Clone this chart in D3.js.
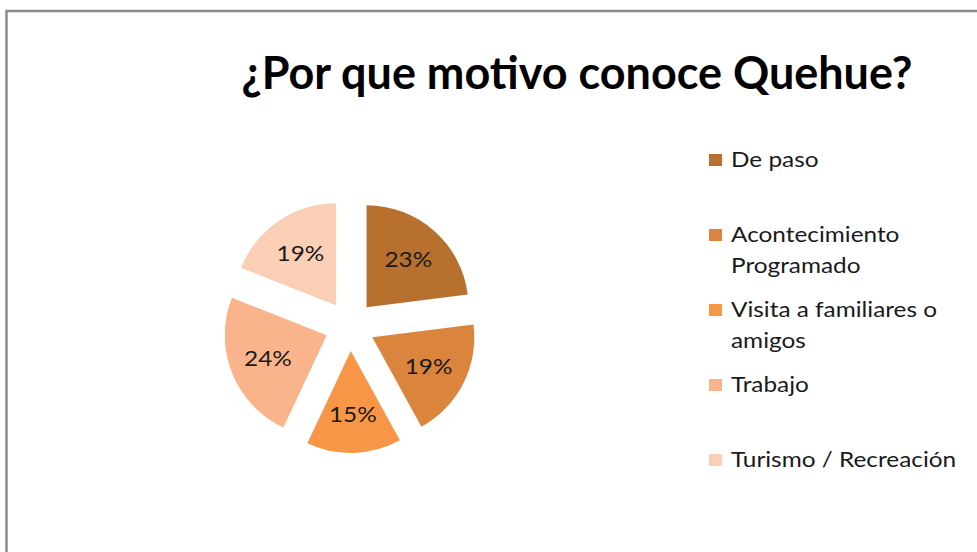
<!DOCTYPE html>
<html>
<head>
<meta charset="utf-8">
<script src="https://cdn.jsdelivr.net/npm/d3@7"></script>
<style>
  html, body { margin: 0; padding: 0; background: #fff; }
  svg { display: block; }
</style>
</head>
<body>
<div id="chart"></div>
<script>
// data
var categories = ["De paso", "Acontecimiento Programado", "Visita a familiares o amigos", "Trabajo", "Turismo / Recreación"];
var values = [23, 19, 15, 24, 19];
var colors = ["#B8702F", "#DA843D", "#F79646", "#F9B48C", "#FBCEB6"];
// legend lines (wrapped like the original)
var legendLines = [["De paso"], ["Acontecimiento", "Programado"], ["Visita a familiares o", "amigos"], ["Trabajo"], ["Turismo / Recreación"]];

var width = 977, height = 552;
var cx = 350, cy = 326, radius = 102, explode = 25;
var stretch = 1.16; // the original text looks stretched sideways

var svg = d3.select("#chart")
    .append("svg")
    .attr("width", width)
    .attr("height", height);

// frame of the chart area (runs off the right and bottom)
svg.append("rect")
    .attr("x", 6.5)
    .attr("y", 11)
    .attr("width", 1000)
    .attr("height", 600)
    .attr("fill", "#fff")
    .attr("stroke", "#8c8c8c")
    .attr("stroke-width", 2.5);

// title
var title = svg.append("text")
    .attr("x", 577)
    .attr("y", 89)
    .attr("text-anchor", "middle")
    .style("font-family", "Lato, 'Open Sans', sans-serif")
    .style("font-weight", "bold")
    .style("font-size", "34px")
    .attr("fill", "#000")
    .text("¿Por que motivo conoce Quehue?");
// fit title to the width seen in the picture
var tw = title.node().getComputedTextLength();
title.style("font-size", (34 * 671 / tw) + "px");

// pie
var pie = d3.pie().sort(null).value(function(d) { return d; });
var arcs = pie(values);
var arc = d3.arc().innerRadius(0).outerRadius(radius);
var labelArc = d3.arc().innerRadius(radius * 0.62).outerRadius(radius * 0.62);

var g = svg.append("g")
    .attr("transform", "translate(" + cx + "," + cy + ")");

var slices = g.selectAll("g.slice")
    .data(arcs)
    .enter()
    .append("g")
    .attr("class", "slice")
    .attr("transform", function(d) {
        var a = (d.startAngle + d.endAngle) / 2;
        return "translate(" + (Math.sin(a) * explode) + "," + (-Math.cos(a) * explode) + ")";
    });

slices.append("path")
    .attr("d", arc)
    .attr("fill", function(d, i) { return colors[i]; });

slices.append("text")
    .attr("transform", function(d) { return "translate(" + labelArc.centroid(d) + ") scale(" + stretch + ",1)"; })
    .attr("text-anchor", "middle")
    .attr("dy", "0.36em")
    .style("font-family", "Lato, 'Open Sans', sans-serif")
    .style("font-size", "21px")
    .attr("fill", "#1a1a1a")
    .text(function(d) { return d.data + "%"; });

// legend
var legend = svg.append("g");
var legendY = d3.scalePoint()
    .domain(categories)
    .range([160, 460]);

var items = legend.selectAll("g.item")
    .data(categories)
    .enter()
    .append("g")
    .attr("class", "item")
    .attr("transform", function(d) { return "translate(709," + legendY(d) + ")"; });

items.append("rect")
    .attr("x", 0)
    .attr("y", -6)
    .attr("width", 13)
    .attr("height", 12)
    .attr("fill", function(d, i) { return colors[i]; });

items.append("text")
    .attr("transform", "translate(22,7) scale(" + stretch + ",1)")
    .style("font-family", "Lato, 'Open Sans', sans-serif")
    .style("font-size", "21px")
    .attr("fill", "#1a1a1a")
    .selectAll("tspan")
    .data(function(d, i) { return legendLines[i]; })
    .enter()
    .append("tspan")
    .attr("x", 0)
    .attr("dy", function(d, j) { return j === 0 ? 0 : 31; })
    .text(function(d) { return d; });
</script>
</body>
</html>
